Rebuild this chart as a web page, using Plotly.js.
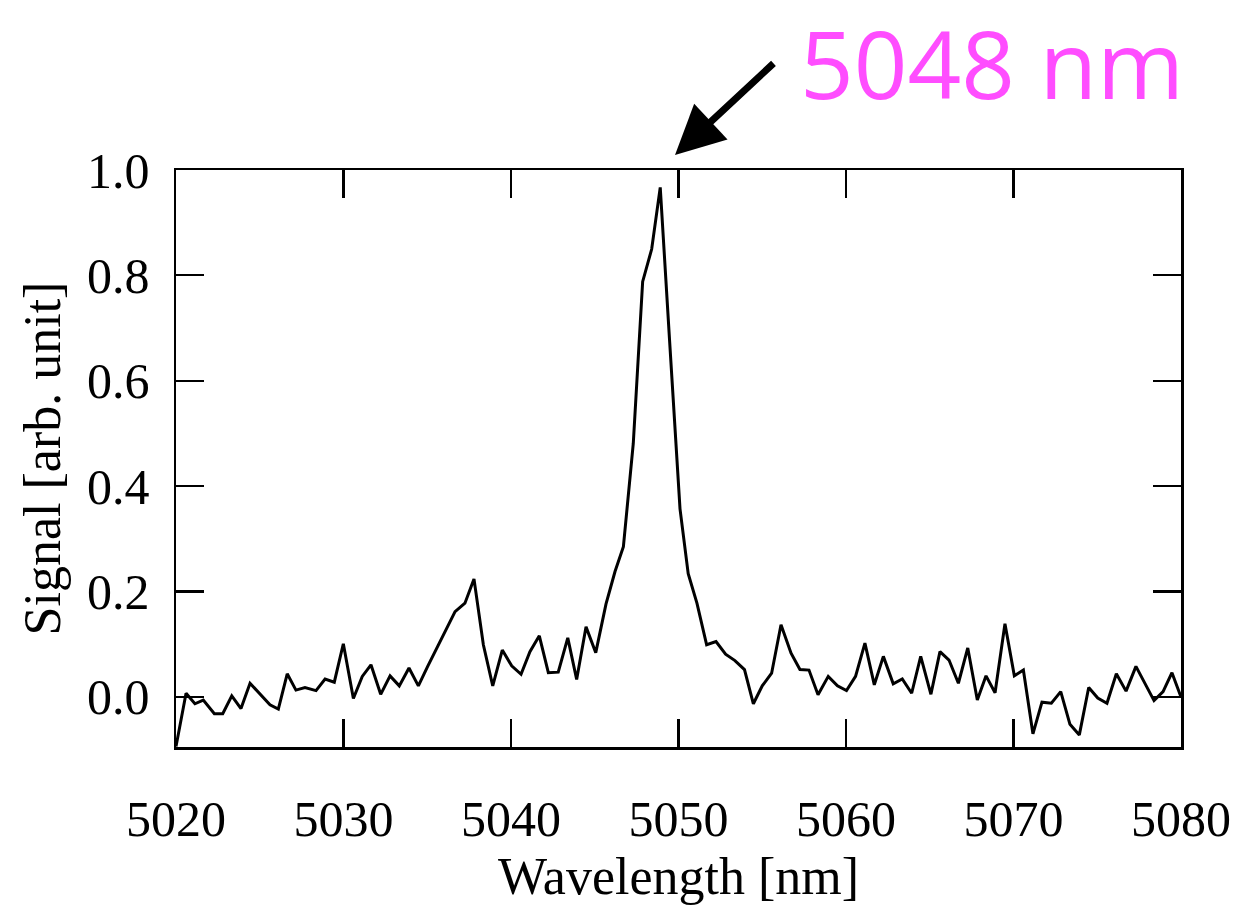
<!DOCTYPE html>
<html>
<head>
<meta charset="utf-8">
<script src="https://cdn.plot.ly/plotly-3.0.1.min.js"></script>
<style>html,body{margin:0;padding:0;background:#fff;}#chart{width:1242px;height:923px;}</style>
</head>
<body>
<div id="chart"></div>
<script>
// Wavelength (nm)
var wavelength = [
5020.00,5020.60,5021.13,5021.63,5022.29,5022.79,5023.33,5023.88,5024.42,5025.01,
5025.61,5026.11,5026.64,5027.16,5027.70,5028.36,5028.90,5029.45,5029.99,5030.59,
5031.12,5031.64,5032.22,5032.78,5033.33,5033.91,5034.47,5035.04,5035.62,5036.12,
5036.66,5037.25,5037.79,5038.35,5038.91,5039.48,5040.04,5040.60,5041.13,5041.69,
5042.23,5042.82,5043.39,5043.92,5044.48,5045.06,5045.67,5046.21,5046.71,5047.30,
5047.86,5048.40,5048.91,5049.46,5050.09,5050.58,5051.10,5051.68,5052.24,5052.81,
5053.37,5053.94,5054.47,5055.00,5055.56,5056.12,5056.72,5057.25,5057.79,5058.33,
5058.94,5059.49,5060.03,5060.57,5061.13,5061.69,5062.23,5062.82,5063.36,5063.92,
5064.46,5065.07,5065.61,5066.15,5066.71,5067.27,5067.84,5068.36,5068.90,5069.49,
5070.05,5070.59,5071.16,5071.70,5072.26,5072.82,5073.37,5073.93,5074.49,5075.03,
5075.58,5076.14,5076.72,5077.31,5077.85,5078.39,5078.93,5079.46,5080.00
];
// Signal (arb. unit)
var signal = [
-0.094,0.007,-0.013,-0.006,-0.032,-0.032,0.002,-0.022,0.026,0.006,
-0.015,-0.023,0.044,0.013,0.018,0.012,0.034,0.028,0.101,-0.003,
0.039,0.061,0.005,0.040,0.021,0.055,0.021,0.059,0.097,0.127,
0.162,0.178,0.224,0.099,0.021,0.089,0.059,0.043,0.086,0.116,
0.046,0.047,0.112,0.033,0.133,0.084,0.176,0.238,0.285,0.481,
0.788,0.850,0.967,0.680,0.357,0.234,0.178,0.099,0.105,0.081,
0.069,0.052,-0.013,0.021,0.045,0.137,0.083,0.052,0.051,0.004,
0.039,0.021,0.012,0.039,0.102,0.023,0.077,0.025,0.034,0.007,
0.077,0.005,0.086,0.070,0.026,0.093,-0.006,0.040,0.008,0.139,
0.040,0.051,-0.070,-0.010,-0.012,0.010,-0.052,-0.072,0.018,-0.002,
-0.012,0.044,0.011,0.058,0.026,-0.007,0.010,0.046,0.000
];
var xTicks = [5020,5030,5040,5050,5060,5070,5080];
var yTicks = [0.0,0.2,0.4,0.6,0.8,1.0];
var yTickText = ["0.0","0.2","0.4","0.6","0.8","1.0"];
var peakLabel = "5048 nm";

var serif = "Liberation Serif, Times New Roman, serif";
var trace = {
  x: wavelength, y: signal, type: 'scatter', mode: 'lines',
  line: {color: '#000', width: 3}, hoverinfo: 'skip', cliponaxis: true
};
var axisCommon = {
  showgrid: false, zeroline: false, showline: true, linecolor: '#000', linewidth: 2.5,
  mirror: 'ticks', ticks: 'inside', ticklen: 28, tickwidth: 2.2, tickcolor: '#000',
  tickfont: {family: serif, size: 50, color: '#000'}
};
var layout = {
  width: 1242, height: 923,
  margin: {l: 176, r: 61, t: 170, b: 176},
  paper_bgcolor: '#fff', plot_bgcolor: '#fff',
  showlegend: false,
  xaxis: Object.assign({}, axisCommon, {
    range: [5020, 5080], tickvals: xTicks, ticktext: xTicks.map(String),
    ticklabelstandoff: 26,
    title: {text: 'Wavelength [nm]', font: {family: serif, size: 52, color: '#000'}, standoff: 12}
  }),
  yaxis: Object.assign({}, axisCommon, {
    range: [-0.095, 1.0], tickvals: yTicks, ticktext: yTickText,
    ticklabelstandoff: 14,
    title: {text: 'Signal [arb. unit]', font: {family: serif, size: 52, color: '#000'}, standoff: 10}
  }),
  annotations: [
    {x: 0.4965, y: 1.026, xref: 'paper', yref: 'paper', text: '', showarrow: true,
     arrowhead: 2, arrowsize: 1.4, arrowwidth: 7, arrowcolor: '#000', ax: 100, ay: -93},
    {x: 0.812, y: 1.186, xref: 'paper', yref: 'paper', text: peakLabel, showarrow: false,
     xanchor: 'center', yanchor: 'middle',
     font: {family: 'Open Sans, sans-serif', size: 94, color: '#ff4dff'}}
  ]
};
Plotly.newPlot('chart', [trace], layout, {staticPlot: true, displayModeBar: false});
</script>
</body>
</html>
